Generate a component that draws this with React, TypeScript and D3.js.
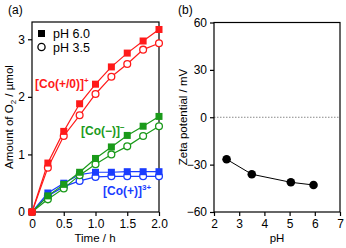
import { useEffect, useRef } from 'react';
import * as d3 from 'd3';

// ── Data (a): O2 evolution vs time ─────────
const TIME = [0, 0.25, 0.5, 0.75, 1.0, 1.25, 1.5, 1.75, 2.0];
const RED_PH60 = [0, 0.85, 1.4, 1.88, 2.22, 2.52, 2.76, 2.97, 3.17];
const RED_PH35 = [0, 0.77, 1.32, 1.68, 2.05, 2.35, 2.57, 2.82, 2.93];
const GREEN_PH60 = [0, 0.28, 0.48, 0.69, 0.93, 1.13, 1.33, 1.49, 1.66];
const GREEN_PH35 = [0, 0.22, 0.41, 0.64, 0.83, 1.0, 1.14, 1.32, 1.49];
const BLUE_PH60 = [0, 0.33, 0.5, 0.65, 0.69, 0.69, 0.7, 0.7, 0.7];
const BLUE_PH35 = [0, 0.28, 0.44, 0.54, 0.61, 0.62, 0.62, 0.62, 0.62];
const A_XTICKS = [0, 0.5, 1.0, 1.5, 2.0];
const A_YTICKS = [0, 1, 2, 3];

// ── Data (b): zeta potential vs pH ─────────
const PH = [2.5, 3.5, 5.05, 5.95];
const ZETA = [-26.6, -36.1, -41.2, -42.9];
const B_XTICKS = [2, 3, 4, 5, 6, 7];
const B_YTICKS = [-60, -30, 0, 30, 60];

const RED = '#ff1a1a';
const GREEN = '#1a9a1a';
const BLUE = '#1a3cff';
const FONT = 'Liberation Sans, Arial, sans-serif';

const xa = d3.scaleLinear().domain([0, 2]).range([32, 159]);
const ya = d3.scaleLinear().domain([0, 3.3]).range([212, 22]);
const xb = d3.scaleLinear().domain([2, 7]).range([214, 340]);
const yb = d3.scaleLinear().domain([-60, 60]).range([212, 22.5]);

const SERIES = [
  { color: BLUE, filled: BLUE_PH60, open: BLUE_PH35 },
  { color: GREEN, filled: GREEN_PH60, open: GREEN_PH35 },
  { color: RED, filled: RED_PH60, open: RED_PH35 },
];

export default function App() {
  const ref = useRef<SVGSVGElement>(null);

  useEffect(() => {
    const svg = d3.select(ref.current);
    svg.selectAll('*').remove();

    const styleAxis = (g: any) => {
      g.selectAll('path').remove();
      g.selectAll('line').attr('stroke', '#000').attr('stroke-width', 1.2);
      g.selectAll('text').attr('font-family', FONT).attr('font-size', 12).attr('fill', '#000');
    };

    // ── Panel (a) ──
    svg.append('g').attr('transform', 'translate(0,212)')
      .call(d3.axisBottom(xa).tickValues(A_XTICKS).tickFormat((d: any) => d === 0 ? '0' : d3.format('.1f')(d)).tickSize(4).tickPadding(3))
      .call(styleAxis);
    svg.append('g').attr('transform', 'translate(32,0)')
      .call(d3.axisLeft(ya).tickValues(A_YTICKS).tickFormat(d3.format('d') as any).tickSize(4).tickPadding(3))
      .call(styleAxis);
    svg.append('rect').attr('x', 32).attr('y', 22).attr('width', 127).attr('height', 190)
      .attr('fill', 'none').attr('stroke', '#000').attr('stroke-width', 1.2);

    const line = d3.line<number>().x((_, i) => xa(TIME[i])).y(d => ya(d));
    SERIES.forEach(s => {
      svg.append('path').attr('d', line(s.open)).attr('fill', 'none').attr('stroke', s.color).attr('stroke-width', 1.2);
      svg.append('path').attr('d', line(s.filled)).attr('fill', 'none').attr('stroke', s.color).attr('stroke-width', 1.2);
      svg.selectAll(null).data(s.open).join('circle')
        .attr('cx', (_, i) => xa(TIME[i])).attr('cy', d => ya(d)).attr('r', 3.4)
        .attr('fill', '#fff').attr('stroke', s.color).attr('stroke-width', 1.3);
      svg.selectAll(null).data(s.filled).join('rect')
        .attr('x', (_, i) => xa(TIME[i]) - 3.5).attr('y', d => ya(d) - 3.5)
        .attr('width', 7).attr('height', 7).attr('fill', s.color);
    });

    // ── Panel (b) ──
    svg.append('g').attr('transform', 'translate(0,212)')
      .call(d3.axisBottom(xb).tickValues(B_XTICKS).tickFormat(d3.format('d') as any).tickSize(4).tickPadding(3))
      .call(styleAxis);
    svg.append('g').attr('transform', 'translate(214,0)')
      .call(d3.axisLeft(yb).tickValues(B_YTICKS).tickFormat(d3.format('d') as any).tickSize(4).tickPadding(3))
      .call(styleAxis);
    svg.append('line').attr('x1', 214).attr('x2', 340).attr('y1', yb(0)).attr('y2', yb(0))
      .attr('stroke', '#888').attr('stroke-width', 1).attr('stroke-dasharray', '1.5,1.5');
    svg.append('rect').attr('x', 214).attr('y', 22.5).attr('width', 126).attr('height', 189.5)
      .attr('fill', 'none').attr('stroke', '#000').attr('stroke-width', 1.2);
    const lineB = d3.line<number>().x((_, i) => xb(PH[i])).y(d => yb(d));
    svg.append('path').attr('d', lineB(ZETA)).attr('fill', 'none').attr('stroke', '#000').attr('stroke-width', 1);
    svg.selectAll(null).data(ZETA).join('circle')
      .attr('cx', (_, i) => xb(PH[i])).attr('cy', d => yb(d)).attr('r', 4.3).attr('fill', '#000');
  }, []);

  const lab = { fontFamily: FONT, fontSize: 11.5 } as const;
  return (
    <div style={{ position: 'fixed', left: 0, top: 0, width: 346, height: 248, background: '#fff' }}>
      <svg width={346} height={248} style={{ display: 'block' }}>
        <g ref={ref} />
        {/* panel letters */}
        <text x={8} y={14} {...lab} fontSize={12}>(a)</text>
        <text x={178} y={14} {...lab} fontSize={12}>(b)</text>
        {/* axis titles */}
        <text x={95} y={242} textAnchor="middle" {...lab}>Time / h</text>
        <text transform="translate(13,117) rotate(-90)" textAnchor="middle" {...lab}>
          Amount of O<tspan fontSize={8} dy={3}>2</tspan><tspan dy={-3}> / µmol</tspan>
        </text>
        <text x={277} y={242} textAnchor="middle" {...lab}>pH</text>
        <text transform="translate(187,117) rotate(-90)" textAnchor="middle" {...lab}>Zeta potential / mV</text>
        {/* legend */}
        <rect x={38} y={30} width={7} height={7} fill="#000" />
        <text x={53} y={38} {...lab} fontSize={12.5}>pH 6.0</text>
        <circle cx={41.5} cy={47} r={3.6} fill="#fff" stroke="#000" strokeWidth={1.3} />
        <text x={53} y={51.5} {...lab} fontSize={12.5}>pH 3.5</text>
        {/* series labels */}
        <text x={35} y={88} {...lab} fontSize={12} fontWeight="bold" fill={RED}>
          [Co(+/0)]<tspan fontSize={8} dy={-5}>+</tspan>
        </text>
        <text x={81} y={135} {...lab} fontSize={12} fontWeight="bold" fill={GREEN}>
          [Co(−)]<tspan fontSize={8} dy={-5}>−</tspan>
        </text>
        <text x={103} y={195} {...lab} fontSize={12} fontWeight="bold" fill={BLUE}>
          [Co(+)]<tspan fontSize={8} dy={-5}>3+</tspan>
        </text>
      </svg>
    </div>
  );
}
